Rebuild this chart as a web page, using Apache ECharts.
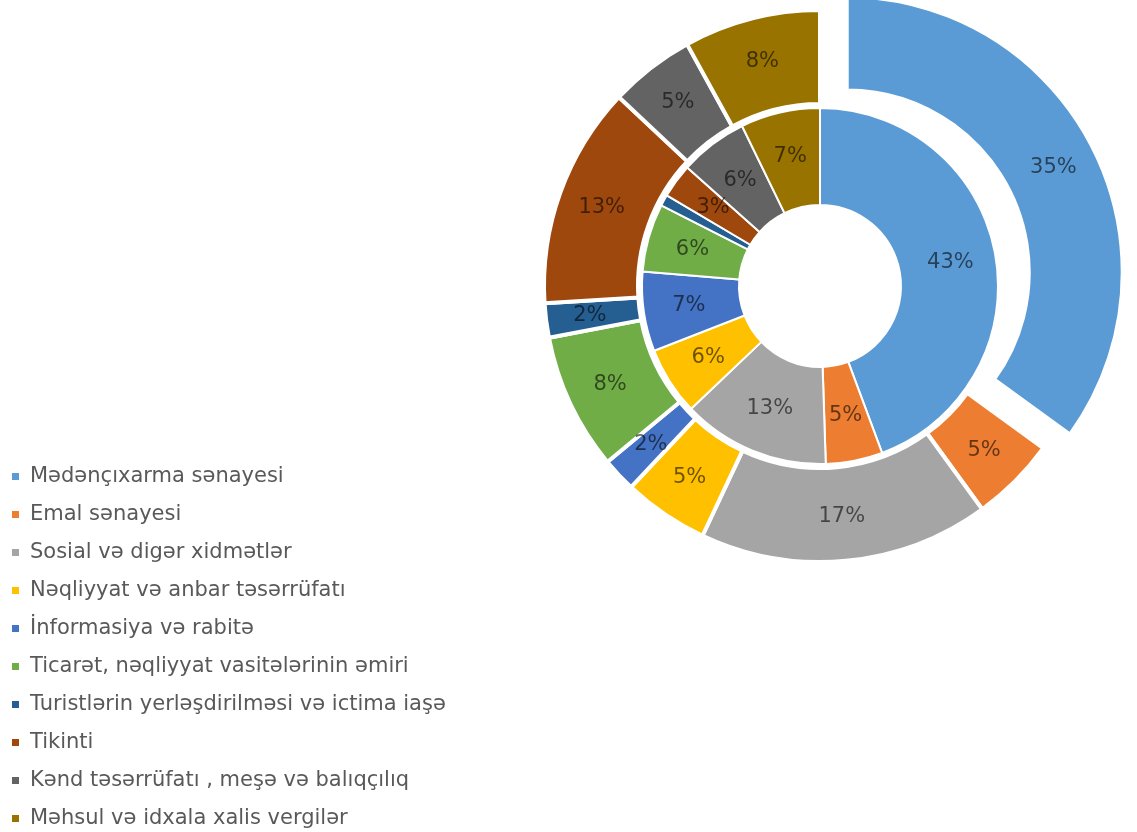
<!DOCTYPE html>
<html>
<head>
<meta charset="utf-8">
<script src="https://cdn.jsdelivr.net/npm/echarts@6/dist/echarts.min.js"></script>
<style>
  html, body { margin: 0; padding: 0; background: #fff; }
  #chart { width: 1137px; height: 832px; }
</style>
</head>
<body>
<div id="chart"></div>
<script>
// sector names (legend order)
const sectors = [
  'Mədənçıxarma sənayesi',
  'Emal sənayesi',
  'Sosial və digər xidmətlər',
  'Nəqliyyat və anbar təsərrüfatı',
  'İnformasiya və rabitə',
  'Ticarət, nəqliyyat vasitələrinin əmiri',
  'Turistlərin yerləşdirilməsi və ictima iaşə',
  'Tikinti',
  'Kənd təsərrüfatı , meşə və balıqçılıq',
  'Məhsul və idxala xalis vergilər'
]
// inner ring, percent
const innerValues = [43, 5, 13, 6, 7, 6, 1, 3, 6, 7]
// outer ring, percent
const outerValues = [35, 5, 17, 5, 2, 8, 2, 13, 5, 8]

const colors = ['#5B9BD5', '#ED7D31', '#A5A5A5', '#FFC000', '#4472C4',
  '#70AD47', '#255E91', '#9E480E', '#636363', '#997300']

const labelStyle = {
  show: true,
  position: 'inside',
  formatter: '{c}%',
  color: 'rgba(0,0,0,0.58)',
  fontFamily: 'DejaVu Sans',
  fontSize: 21
}

const chart = echarts.init(document.getElementById('chart'))
chart.setOption({
  color: colors,
  animation: false,
  legend: {
    orient: 'vertical',
    left: 10,
    top: 466,
    padding: 0,
    icon: 'rect',
    itemWidth: 9,
    itemHeight: 9,
    itemGap: 17,
    selectedMode: false,
    data: sectors,
    textStyle: {
      fontFamily: 'DejaVu Sans',
      fontSize: 21,
      color: '#595959',
      padding: [0, 0, 0, 5]
    }
  },
  series: [
    {
      name: 'inner',
      type: 'pie',
      center: [820, 286],
      radius: [81, 178],
      avoidLabelOverlap: false,
      itemStyle: { borderColor: '#fff', borderWidth: 2 },
      label: labelStyle,
      labelLine: { show: false },
      emphasis: { disabled: true },
      data: sectors.map((n, i) => ({ name: n, value: innerValues[i] }))
    },
    {
      name: 'outer',
      type: 'pie',
      center: [820, 286],
      radius: [182, 276],
      selectedMode: 'single',
      selectedOffset: 30,
      avoidLabelOverlap: false,
      itemStyle: { borderColor: '#fff', borderWidth: 4 },
      label: labelStyle,
      labelLine: { show: false },
      emphasis: { disabled: true },
      data: sectors.map((n, i) => ({ name: n, value: outerValues[i], selected: i === 0 }))
    }
  ]
})
</script>
</body>
</html>
